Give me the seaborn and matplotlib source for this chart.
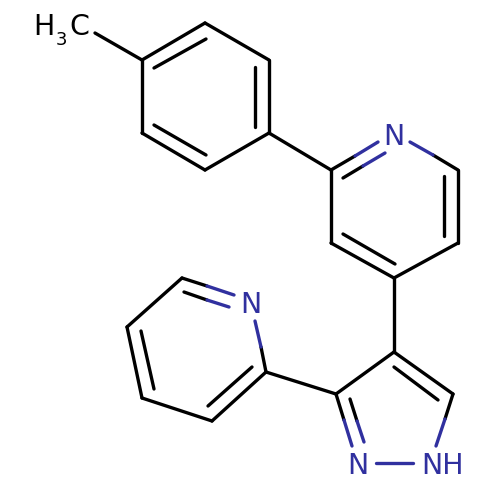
import pandas as pd
import matplotlib
matplotlib.use("Agg")
import matplotlib.pyplot as plt
import seaborn as sns

# bonds as [x0, x1], [y0, y1], image pixels
black_x = [[95, 142], [142, 205], [205, 269], [269, 269], [269, 205], [205, 142], [142, 142],
           [154, 206], [255, 255], [154, 206],
           [269, 331], [331, 355], [343, 363], [433, 458], [458, 458], [458, 394], [394, 331], [331, 331],
           [444, 444], [343, 395], [394, 394],
           [394, 453], [394, 336], [394, 438], [453, 445], [336, 344], [350, 357],
           [336, 266], [266, 212], [212, 142], [142, 127], [127, 182], [182, 207], [184, 207],
           [266, 261], [208, 252], [154, 141]]
black_y = [[33, 60], [60, 23], [23, 60], [60, 133], [133, 170], [170, 133], [133, 60],
           [68, 39], [67, 127], [125, 155],
           [133, 170], [170, 156], [178, 166], [155, 170], [170, 243], [243, 278], [278, 243], [243, 170],
           [176, 236], [234, 264], [278, 352],
           [352, 394], [352, 394], [367, 400], [394, 419], [394, 420], [399, 421],
           [394, 372], [372, 421], [421, 398], [398, 327], [327, 278], [278, 286], [292, 300],
           [372, 347], [406, 367], [389, 331]]

blue_x = [[355, 378], [363, 385], [410, 433], [445, 436], [344, 352], [357, 364], [376, 413],
          [207, 234], [207, 229], [261, 255]]
blue_y = [[156, 142], [166, 153], [142, 155], [419, 446], [420, 446], [421, 442], [463, 463],
          [286, 295], [300, 307], [347, 321]]

# atom labels, y is the text baseline
blue_text = ["N", "N", "N", "NH"]
blue_text_x = [394, 251, 358, 442.5]
blue_text_y = [145, 313, 474, 474]

black_text = ["H", "3", "C"]
black_text_x = [43.5, 61.5, 79.5]
black_text_y = [35, 45, 35]
black_text_size = [20.5, 13, 20.5]


def bonds_frame(xs, ys):
    rows = []
    for i, (x, y) in enumerate(zip(xs, ys)):
        rows.append({"bond": i, "order": 0, "x": x[0], "y": y[0]})
        rows.append({"bond": i, "order": 1, "x": x[1], "y": y[1]})
    return pd.DataFrame(rows)


sns.set_style("white")
fig = plt.figure(figsize=(5, 5), dpi=100)
ax = fig.add_axes([0, 0, 1, 1])

sns.lineplot(data=bonds_frame(black_x, black_y), x="x", y="y", units="bond", estimator=None,
             sort=False, color="black", linewidth=2.4, solid_capstyle="round", legend=False, ax=ax)
sns.lineplot(data=bonds_frame(blue_x, blue_y), x="x", y="y", units="bond", estimator=None,
             sort=False, color="#30309f", linewidth=2.4, solid_capstyle="round", legend=False, ax=ax)

ax.set_xlim(0, 500)
ax.set_ylim(500, 0)
ax.axis("off")

for t, x, y in zip(blue_text, blue_text_x, blue_text_y):
    ax.text(x, y, t, color="#30309f", fontsize=20.5, ha="center", va="baseline")
for t, x, y, s in zip(black_text, black_text_x, black_text_y, black_text_size):
    ax.text(x, y, t, color="black", fontsize=s, ha="center", va="baseline")

fig.savefig("out.png", dpi=100)
